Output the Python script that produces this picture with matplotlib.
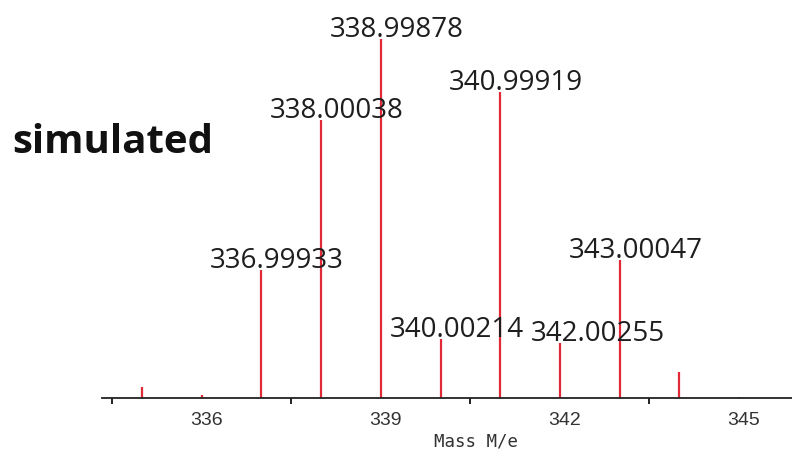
import matplotlib
matplotlib.use("Agg")
import matplotlib.pyplot as plt
import matplotlib.transforms as mtransforms

# ---- data ----
masses = [335.0, 336.0, 336.99933, 338.00038, 338.99878, 340.00214,
          340.99919, 342.00255, 343.00047, 344.0, 345.0]
intensities = [3.1, 0.7, 35.7, 77.4, 100.0, 16.4, 85.2, 15.3, 38.4, 7.2, 0.4]
labeled = [False, False, True, True, True, True, True, True, True, False, False]
tick_values = [336, 339, 342, 345]
tick_labels = ["336", "339", "342", "345"]
minor_tick_values = [334.5, 337.5, 340.5, 343.5]
title_text = "simulated"
xlabel_text = "Mass M/e"

# layout: extra horizontal shift (px) of a label to avoid overlap
label_shift_px = {7: 22}

W, H, DPI = 792, 451, 100
fig = plt.figure(figsize=(W / DPI, H / DPI), dpi=DPI)
fig.patch.set_facecolor("white")

ax_left, ax_right = 102 / W, 792 / W
ax_bottom = (H - 398) / H
ax_top = (H - 39) / H
ax = fig.add_axes([ax_left, ax_bottom, ax_right - ax_left, ax_top - ax_bottom])
ax.set_xlim(334.33, 345.89)
ax.set_ylim(0, 100)

red = "#e02a38"
ax.vlines(masses, 0, intensities, colors=red, linewidth=1.6, zorder=2)

for s in ["top", "left", "right"]:
    ax.spines[s].set_visible(False)
ax.spines["bottom"].set_color("#222222")
ax.spines["bottom"].set_linewidth(1.3)
ax.spines["bottom"].set_zorder(3)
ax.set_yticks([])

ax.set_xticks(tick_values)
ax.set_xticklabels(tick_labels, fontfamily="Liberation Sans", fontsize=14,
                   color="#333333")
ax.tick_params(axis="x", which="major", length=0, pad=10)
ax.set_xticks(minor_tick_values, minor=True)
ax.tick_params(axis="x", which="minor", length=4.5, width=1.4,
               color="#222222", direction="out")
offset = mtransforms.ScaledTranslation(5 / DPI, 0, fig.dpi_scale_trans)
for lbl in ax.get_xticklabels():
    lbl.set_transform(lbl.get_transform() + offset)

# x-axis label
ax.text(340.59, -35 / 359 * 100, xlabel_text, ha="center", va="top",
        fontfamily="DejaVu Sans Mono", fontsize=12.5, color="#333333",
        transform=ax.transData, clip_on=False)

# peak labels: decimal point aligned over the stick
fig.canvas.draw()
renderer = fig.canvas.get_renderer()
label_font = dict(fontfamily="Open Sans", fontsize=20, color="#1e1e1e")
for i, (m, h, lab) in enumerate(zip(masses, intensities, labeled)):
    if not lab:
        continue
    s = f"{m:.5f}"
    int_part = s.split(".")[0]
    t1 = fig.text(0, 0, int_part, **label_font)
    t2 = fig.text(0, 0, ".", **label_font)
    w_int = t1.get_window_extent(renderer).width
    w_dot = t2.get_window_extent(renderer).width
    t1.remove(); t2.remove()
    dx_px = -(w_int + w_dot / 2) + label_shift_px.get(i, 0)
    ax.annotate(s, xy=(m, h), xytext=(dx_px * 72 / DPI, 1.5),
                textcoords="offset points", ha="left", va="baseline",
                annotation_clip=False, **label_font)

fig.text(12 / W, (H - 153) / H, title_text, fontfamily="Open Sans",
         fontweight="bold", fontsize=29, color="#111111", ha="left",
         va="baseline")

fig.savefig("out.png", dpi=DPI, facecolor="white")
